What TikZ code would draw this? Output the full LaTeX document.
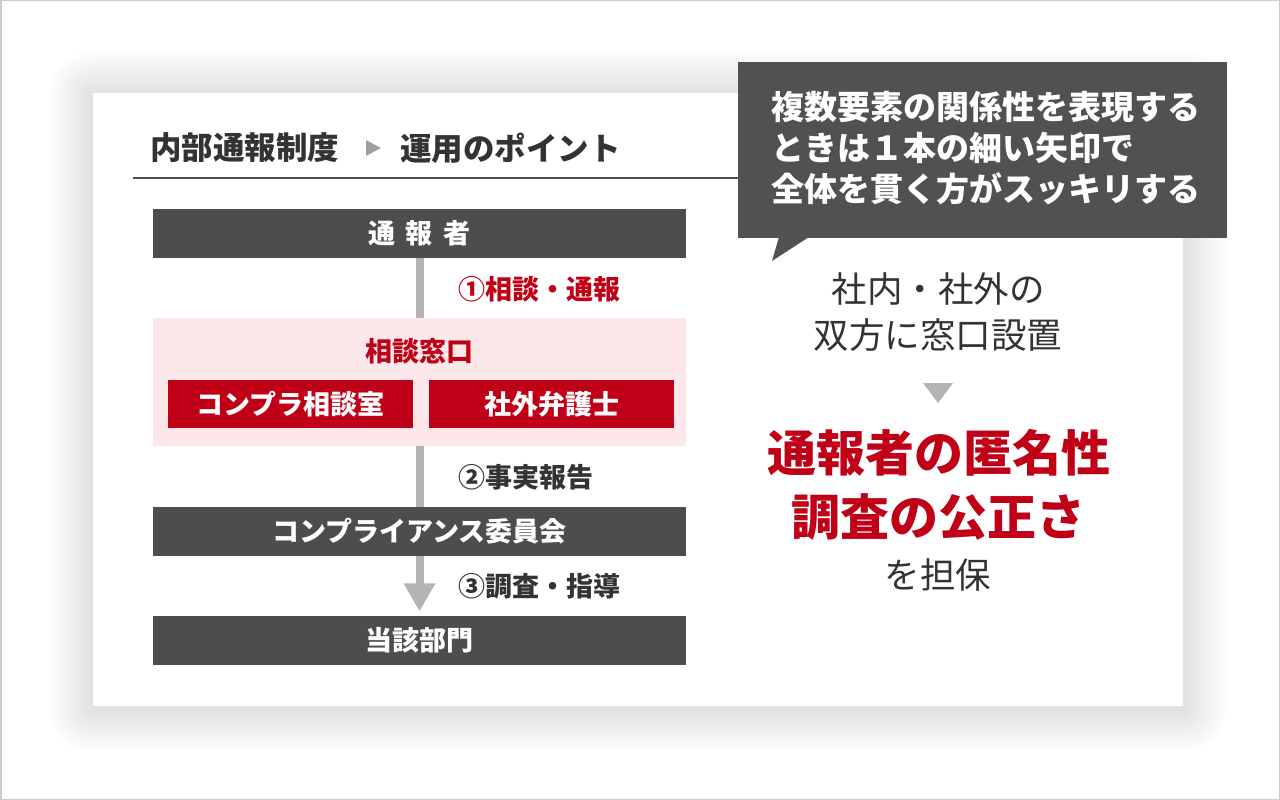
\documentclass[tikz,border=0pt]{standalone}
\usepackage{fontspec}
\setmainfont{Noto Sans CJK JP}
\usetikzlibrary{arrows.meta}
\definecolor{boxgray}{HTML}{4D4D4D}
\definecolor{callgray}{HTML}{515151}
\definecolor{redc}{HTML}{C00016}
\definecolor{pinkc}{HTML}{FCE8EA}
\definecolor{linegray}{HTML}{B4B4B4}
\definecolor{txt}{HTML}{333333}
\definecolor{framegray}{HTML}{CCCCCC}
\tikzset{
  darkbox/.style={fill=boxgray, text=white, font=\fontsize{27}{30}\selectfont\bfseries, minimum width=533, minimum height=49, inner sep=0},
  redbox/.style={fill=redc, text=white, font=\fontsize{27}{30}\selectfont\bfseries, minimum width=245, minimum height=48, inner sep=0},
  steplabel/.style={font=\fontsize{27}{30}\selectfont\bfseries, anchor=west, inner sep=0},
  righttext/.style={text=txt, font=\fontsize{35.5}{40}\selectfont, inner sep=0},
  bigred/.style={text=redc, font=\fontsize{49}{54}\selectfont\bfseries, inner sep=0},
}
\begin{document}
\begin{tikzpicture}[x=1pt,y=-1pt]
\useasboundingbox (0,0) rectangle (1280,800);
\fill[white] (0,0) rectangle (1280,800);
% shadow
\foreach \i in {1,...,30}{
  \pgfmathsetmacro\d{\i*1.5}
  \fill[black, opacity=0.005, rounded corners=\d] (93-\d,93-\d+2) rectangle (1183+\d,706+\d+2);
}
\fill[white] (93,93) rectangle (1183,706);
\draw[framegray, line width=1.5] (0.75,0.75) rectangle (1279.25,799.25);

% title
\node[text=txt, font=\fontsize{31.5}{34}\selectfont\bfseries, anchor=west, inner sep=0] (t1) at (150,148) {内部通報制度};
\fill[gray!75] (366,140) -- (366,156) -- (381,148) -- cycle;
\node[text=txt, font=\fontsize{31.5}{34}\selectfont\bfseries, anchor=west, inner sep=0] (t2) at (400,148) {運用のポイント};
\coordinate (rl) at (133,178);
\coordinate (rr) at (745,178);
\draw[boxgray, line width=2] (rl) -- (rr);

% flow
\node[darkbox] (tsu) at (419.5,233.5) {通\hspace{0.4em}報\hspace{0.4em}者};
\node[darkbox] (tou) at (419.5,640) {当該部門};
\draw[linegray, line width=8, -{Triangle[width=30,length=28]}, shorten >=4] (tsu.south) -- (tou.north);
\node[fill=pinkc, minimum width=533, minimum height=128, inner sep=0] (pink) at (419.5,382) {};
\node[text=redc, font=\fontsize{27}{30}\selectfont\bfseries, inner sep=0] (mado) at (419.5,351) {相談窓口};
\node[redbox] (comp) at (290.5,404) {コンプラ相談室};
\node[redbox] (bengo) at (551.5,404) {社外弁護士};
\node[darkbox] (iin) at (419.5,531) {コンプライアンス委員会};
\node[steplabel, text=redc] (s1) at (458,289) {①相談・通報};
\node[steplabel, text=txt] (s2) at (458,477) {②事実報告};
\node[steplabel, text=txt] (s3) at (458,586) {③調査・指導};

% callout
\fill[callgray] (738,62) rectangle (1227,238);
\fill[callgray] (779,237) -- (809,237) -- (772,261) -- cycle;
\node[text=white, font=\fontsize{33}{41}\selectfont\bfseries, anchor=west, align=left, inner sep=0] (call) at (771,148) {複数要素の関係性を表現する\\ときは１本の細い矢印で\\全体を貫く方がスッキリする};

% right column
\node[righttext] (r1) at (938,289) {社内・社外の};
\node[righttext] (r2) at (938,335) {双方に窓口設置};
\fill[linegray] (923,383) -- (953,383) -- (938,403) -- cycle;
\node[bigred] (r3) at (939,453) {通報者の匿名性};
\node[bigred] (r4) at (938,517) {調査の公正さ};
\node[righttext] (r5) at (938,575) {を担保};
\end{tikzpicture}
\end{document}
